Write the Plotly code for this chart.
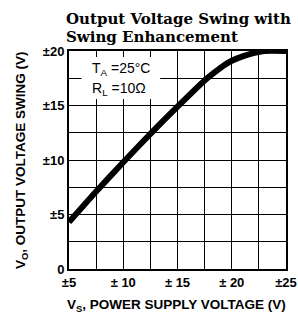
import plotly.graph_objects as go

supply_v = [5, 7.5, 10, 12.5, 15, 17.5, 18.5, 19.3, 20, 21, 22, 23, 25]
swing_v = [4.3, 7.1, 9.8, 12.4, 14.9, 17.3, 18.1, 18.7, 19.1, 19.5, 19.8, 20.0, 20.0]
x_tick_vals = [5, 10, 15, 20, 25]
x_tick_text = ["±5", "± 10", "± 15", "± 20", "±25"]
y_tick_vals = [0, 5, 10, 15, 20]
y_tick_text = ["0", "±5", "±10", "±15", "±20"]

W, H = 298, 320
L, T = 69, 51
PW, PH = 286 - 69, 269 - 51
R, B = W - L - PW, H - T - PH


def px(xp):
    return (xp - L) / PW


def py(yp):
    return (H - B - yp) / PH


fig = go.Figure()
fig.add_trace(go.Scatter(x=supply_v, y=swing_v, mode="lines",
                         line=dict(color="black", width=6, shape="spline", smoothing=0.6),
                         hoverinfo="skip", showlegend=False, cliponaxis=True))

sans = "Liberation Sans"
fig.update_layout(
    width=W, height=H, margin=dict(l=L, r=R, t=T, b=B, autoexpand=False),
    paper_bgcolor="white", plot_bgcolor="white",
    font=dict(family=sans, color="black", size=13),
    showlegend=False,
    xaxis=dict(range=[5, 25], tickmode="array", tickvals=x_tick_vals,
               ticktext=["<b>%s</b>" % t for t in x_tick_text],
               showgrid=True, gridcolor="black", gridwidth=1.2,
               minor=dict(showgrid=True, gridcolor="black", gridwidth=1.2, tickmode="array",
                          tickvals=[7.5, 12.5, 17.5, 22.5]),
               showline=True, linecolor="black", linewidth=2, mirror=True,
               ticks="", zeroline=False, fixedrange=True, automargin=False,
               tickfont=dict(family=sans, size=13, color="black")),
    yaxis=dict(range=[0, 20], tickmode="array", tickvals=y_tick_vals,
               ticktext=["<b>%s</b>" % t for t in y_tick_text],
               showgrid=True, gridcolor="black", gridwidth=1.2,
               minor=dict(showgrid=True, gridcolor="black", gridwidth=1.2, tickmode="array",
                          tickvals=[2.5, 7.5, 12.5, 17.5]),
               showline=True, linecolor="black", linewidth=2, mirror=True,
               ticks="", zeroline=False, fixedrange=True, automargin=False,
               tickfont=dict(family=sans, size=13, color="black")),
)

# white box behind conditions text
fig.add_shape(type="rect", xref="x", yref="y", x0=6.15, x1=13.4, y0=15.6, y1=19.45,
              fillcolor="white", line=dict(width=0), layer="between")

fig.add_annotation(xref="paper", yref="paper", x=px(90), y=py(69),
                   xanchor="left", yanchor="middle", showarrow=False,
                   text="T<sub>A</sub> =25°C", font=dict(family=sans, size=14, color="black"))
fig.add_annotation(xref="paper", yref="paper", x=px(90), y=py(89),
                   xanchor="left", yanchor="middle", showarrow=False,
                   text="R<sub>L</sub> =10Ω", font=dict(family=sans, size=14, color="black"))

# title (two lines)
serif = "DejaVu Serif"
fig.add_annotation(xref="paper", yref="paper", x=px(64), y=py(19),
                   xanchor="left", yanchor="middle", showarrow=False,
                   text="<b>Output Voltage Swing with</b>",
                   font=dict(family=serif, size=15, color="black"))
fig.add_annotation(xref="paper", yref="paper", x=px(64), y=py(37),
                   xanchor="left", yanchor="middle", showarrow=False,
                   text="<b>Swing Enhancement</b>",
                   font=dict(family=serif, size=15, color="black"))

# axis titles
fig.add_annotation(xref="paper", yref="paper", x=px(176), y=py(305),
                   xanchor="center", yanchor="middle", showarrow=False,
                   text="<b>V<sub>S</sub>, POWER SUPPLY VOLTAGE (V)</b>",
                   font=dict(family=sans, size=13.5, color="black"))
fig.add_annotation(xref="paper", yref="paper", x=px(21), y=py(160),
                   xanchor="center", yanchor="middle", showarrow=False, textangle=-90,
                   text="<b>V<sub>O</sub>, OUTPUT VOLTAGE SWING (V)</b>",
                   font=dict(family=sans, size=13.5, color="black"))

fig.write_html("out.html", config={"displayModeBar": False},
               post_script="document.body.style.margin='0px';")
